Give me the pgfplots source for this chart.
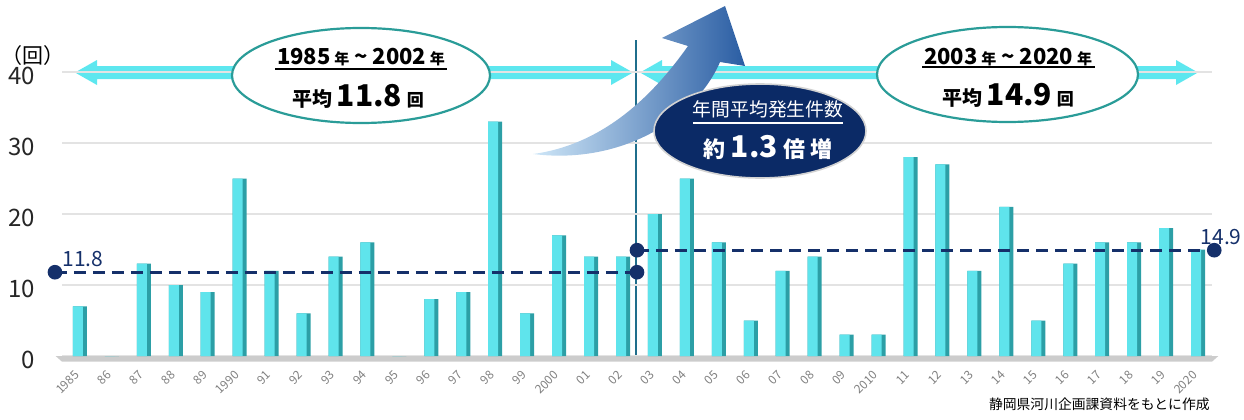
\documentclass[border=0pt]{standalone}
\usepackage{pgfplots}
\pgfplotsset{compat=1.18}
\usepackage{pgfplotstable}
\usepackage{fontspec}
\setmainfont{Noto Sans CJK JP}

\definecolor{barface}{HTML}{5FE4EC}
\definecolor{barside}{HTML}{2C9FA6}
\definecolor{arrowcyan}{HTML}{5DE7EF}
\definecolor{ringteal}{HTML}{2A9C98}
\definecolor{navy}{HTML}{0B2A66}
\definecolor{dashnavy}{HTML}{15306A}
\definecolor{divline}{HTML}{1F6E8C}
\definecolor{arrowlight}{HTML}{CFE7F8}
\definecolor{arrowdark}{HTML}{2A5DA3}

% annual count, 1985 (i=0) ... 2020 (i=35)
\pgfplotstableread{
i n
0 7
1 0
2 13
3 10
4 9
5 25
6 12
7 6
8 14
9 16
10 0
11 8
12 9
13 33
14 6
15 17
16 14
17 14
18 20
19 25
20 16
21 5
22 12
23 14
24 3
25 3
26 28
27 27
28 12
29 21
30 5
31 13
32 16
33 16
34 18
35 15
}\counts

\begin{document}
\begin{tikzpicture}
\useasboundingbox (0,0) rectangle (622pt,209.5pt);

% pixel frame of the reference: origin top-left, y down
\begin{scope}[shift={(0,209.5pt)}, x=0.5pt, y=-0.5pt]
  % cyan period arrows
  \fill[arrowcyan] (75,72.5) -- (97,60) -- (97,66) -- (611,66) -- (611,60) -- (633,72.5)
    -- (611,85) -- (611,79) -- (97,79) -- (97,85) -- cycle;
  \fill[arrowcyan] (640,72.5) -- (662,60) -- (662,66) -- (1176,66) -- (1176,60) -- (1198,72.5)
    -- (1176,85) -- (1176,79) -- (662,79) -- (662,85) -- cycle;
  % divider
  \draw[divline, line width=0.6pt] (636,40) -- (636,356);
\end{scope}

\begin{axis}[
    at={(31pt,31.5pt)}, anchor=south west,
    scale only axis, width=575pt, height=142pt,
    xmin=-0.5, xmax=35.5, ymin=0, ymax=40,
    clip=false,
    axis line style={draw=none},
    tick style={draw=none},
    ymajorgrids, grid style={gray!22, line width=1.2pt},
    ytick={0,10,20,30,40},
    yticklabel style={font=\fontsize{12}{12}\selectfont, text=black!85, xshift=-10pt, yshift=-2pt},
    /pgf/number format/assume math mode=true,
    xtick={0,...,35},
    xticklabels={1985,86,87,88,89,1990,91,92,93,94,95,96,97,98,99,2000,01,02,
                 03,04,05,06,07,08,09,2010,11,12,13,14,15,16,17,18,19,2020},
    xticklabel style={xshift=2pt, yshift=-6pt, rotate=45, anchor=east,
                      font=\fontsize{6}{6}\selectfont, text=gray},
  ]
  % floor
  \fill[gray!40] (axis cs:-0.7,0) -- (axis cs:35.7,0) -- (axis cs:35.5,-0.8) -- (axis cs:-0.5,-0.8) -- cycle;
  \addplot[ybar, bar width=7pt, bar shift=1pt, fill=barside, draw=none] table[x=i, y=n] {\counts};
  \addplot[ybar, bar width=5pt, bar shift=0pt, fill=barface, draw=none] table[x=i, y=n] {\counts};
  % period means
  \addplot[dashnavy, line width=1.3pt, dash pattern=on 6pt off 3.5pt,
           mark=*, mark size=3pt, mark options={solid}] coordinates {(-0.72,11.8) (17.5,11.8)};
  \addplot[dashnavy, line width=1.3pt, dash pattern=on 6pt off 3.5pt,
           mark=*, mark size=3pt, mark options={solid}] coordinates {(17.5,14.9) (35.57,14.9)};
\end{axis}

\begin{scope}[shift={(0,209.5pt)}, x=0.5pt, y=-0.5pt]
  % axis unit
  \node[font=\fontsize{10.5}{10.5}\selectfont] at (33,56) {（回）};
  % mean labels
  \node[text=dashnavy, font=\fontsize{10.5}{10.5}\selectfont] at (83,259) {11.8};
  \node[text=dashnavy, font=\fontsize{10.5}{10.5}\selectfont, anchor=east, inner sep=0pt] at (1242,237) {14.9};

  % ellipses for the two periods
  \draw[ringteal, line width=1.1pt, fill=white] (361,75.5) ellipse [x radius=129, y radius=47.5];
  \node[font=\bfseries\fontsize{11}{11}\selectfont] at (361,57)
    {1985\,{\fontsize{7.5}{7.5}\selectfont 年}\ \textasciitilde\ 2002\,{\fontsize{7.5}{7.5}\selectfont 年}};
  \draw[black, line width=0.8pt] (275,69) -- (447,69);
  \node[font=\bfseries\fontsize{10}{10}\selectfont] at (358,96)
    {平均\ {\fontsize{15}{15}\selectfont 11.8}\ {\fontsize{8.5}{8.5}\selectfont 回}};

  \draw[ringteal, line width=1.1pt, fill=white] (1007.5,74.5) ellipse [x radius=130.5, y radius=47.5];
  \node[font=\bfseries\fontsize{11}{11}\selectfont] at (1008,57)
    {2003\,{\fontsize{7.5}{7.5}\selectfont 年}\ \textasciitilde\ 2020\,{\fontsize{7.5}{7.5}\selectfont 年}};
  \draw[black, line width=0.8pt] (922,67) -- (1095,67);
  \node[font=\bfseries\fontsize{10}{10}\selectfont] at (1008,95)
    {平均\ {\fontsize{15}{15}\selectfont 14.9}\ {\fontsize{8.5}{8.5}\selectfont 回}};

  % rising arrow
  \shade[left color=arrowlight, right color=arrowdark]
    (533,154) .. controls (620,165) and (695,120) .. (720,62)
    -- (745,66) -- (725,6) -- (662,38) -- (688,46)
    .. controls (650,100) and (600,145) .. (533,154) -- cycle;

  % ratio badge
  \draw[gray!35, line width=0.8pt, fill=navy] (760,131) ellipse [x radius=106, y radius=47];
  \node[text=white, font=\fontsize{9.4}{9.4}\selectfont] at (768,109) {年間平均発生件数};
  \draw[white, line width=0.7pt] (693,123) -- (843,123);
  \node[text=white, font=\bfseries\fontsize{11}{11}\selectfont] at (768,147)
    {約\ {\fontsize{15}{15}\selectfont 1.3}\ 倍\ 増};

  % source
  \node[font=\fontsize{6.9}{6.9}\selectfont, anchor=east, inner sep=1pt] at (1212,404) {静岡県河川企画課資料をもとに作成};
\end{scope}
\end{tikzpicture}
\end{document}
